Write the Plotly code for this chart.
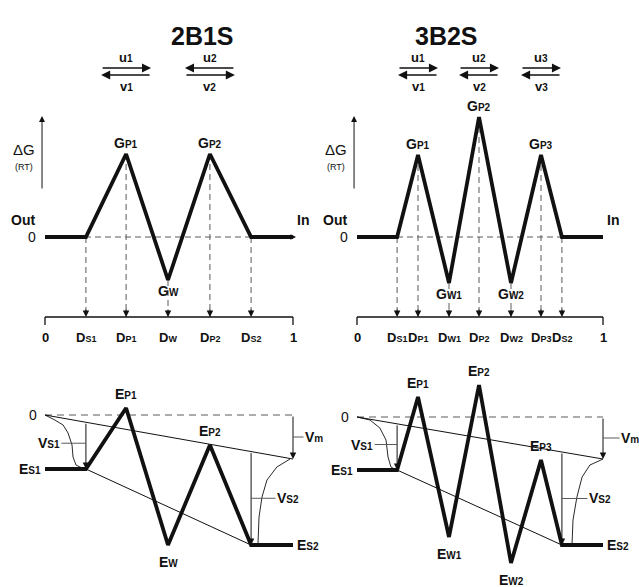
import plotly.graph_objects as go

# ---------------------------------------------------------------
# Energy profiles of two permeation models (2B1S and 3B2S).
# D: electrical distance across the membrane (0 = outside, 1 = inside)
# G: free-energy levels at zero voltage (RT units)
# E: the same profile with the membrane potential applied
# ---------------------------------------------------------------

# ---- 2B1S: two barriers, one binding site ----
POS_2B = [0.0, 0.165, 0.327, 0.496, 0.665, 0.831, 1.0]
SITE_2B = ["", "S1", "P1", "W", "P2", "S2", ""]
G_2B = [0.0, 0.0, 4.15, -2.15, 4.15, 0.0, 0.0]
E_2B = [-2.7, -2.7, 0.35, -6.5, -1.5, -6.5, -6.5]
VM_2B = 2.2
ACCESS_IN_D_2B = [0.0, 0.040, 0.073, 0.093, 0.109, 0.113, 0.125, 0.149]
ACCESS_IN_E_2B = [0.0, -0.25, -0.5, -0.9, -1.5, -2.1, -2.5, -2.65]
ACCESS_OUT_D_2B = [0.988, 0.935, 0.895, 0.875, 0.863, 0.859]
ACCESS_OUT_E_2B = [-2.2, -2.6, -3.25, -4.1, -5.1, -6.4]
RATES_2B = ["1", "2"]
RATE_DIR_2B = [1, -1]

# ---- 3B2S: three barriers, two binding sites ----
POS_3B = [0.0, 0.163, 0.248, 0.374, 0.496, 0.626, 0.748, 0.833, 1.0]
SITE_3B = ["", "S1", "P1", "W1", "P2", "W2", "P3", "S2", ""]
G_3B = [0.0, 0.0, 4.1, -2.3, 6.0, -2.3, 4.1, 0.0, 0.0]
E_3B = [-2.65, -2.65, 1.0, -6.0, 1.6, -7.3, -2.15, -6.4, -6.4]
VM_3B = 2.1
ACCESS_IN_D_3B = [0.0, 0.053, 0.093, 0.118, 0.126, 0.138, 0.16]
ACCESS_IN_E_3B = [0.0, -0.15, -0.55, -1.15, -2.0, -2.5, -2.65]
ACCESS_OUT_D_3B = [1.0, 0.947, 0.915, 0.894, 0.878, 0.874]
ACCESS_OUT_E_3B = [-2.1, -2.4, -3.0, -4.0, -5.15, -6.4]
RATES_3B = ["1", "2", "3"]
RATE_DIR_3B = [1, 1, 1]

# ---------------------------------------------------------------
W, H = 639, 587
FONT = "Liberation Sans, Arial, Helvetica, sans-serif"
INK = "#111111"
GREY = "#5a5a5a"
PX_PER_UNIT = 20.0          # vertical scale of both energy axes
TOP_DOM = (40, 350)         # pixel rows of the zero-voltage panels
BOT_DOM = (352, 587)        # pixel rows of the applied-voltage panels
D_AXIS_PX = 317             # pixel row of the distance axis


def fx(px):
    return px / W


def fy(py):
    return 1 - py / H


def label(main, sub="", sub_size=10, bold=True):
    s = main if not sub else f'{main}<span style="font-size:{sub_size}px">{sub}</span>'
    return f"<b>{s}</b>" if bold else s


panels = [
    dict(title="2B1S", x0=45, x1=293, dom=(0, 320), g0=237, e0=415,
         pos=POS_2B, site=SITE_2B, g=G_2B, e=E_2B, vm=VM_2B,
         acc_in=(ACCESS_IN_D_2B, ACCESS_IN_E_2B), acc_out=(ACCESS_OUT_D_2B, ACCESS_OUT_E_2B),
         rates=RATES_2B, rdir=RATE_DIR_2B, rlen=50, in_arrow=True,
         vs1_off=-37, vs2_off=37, vm_off=21),
    dict(title="3B2S", x0=357, x1=603, dom=(320, 639), g0=237, e0=417,
         pos=POS_3B, site=SITE_3B, g=G_3B, e=E_3B, vm=VM_3B,
         acc_in=(ACCESS_IN_D_3B, ACCESS_IN_E_3B), acc_out=(ACCESS_OUT_D_3B, ACCESS_OUT_E_3B),
         rates=RATES_3B, rdir=RATE_DIR_3B, rlen=40, in_arrow=False,
         vs1_off=-35, vs2_off=38, vm_off=27),
]

fig = go.Figure()
annotations = []
layout_axes = {}


def line_trace(x, y, xa, ya, width=1.0, color=INK, dash=None):
    fig.add_trace(go.Scatter(
        x=x, y=y, xaxis=xa, yaxis=ya, mode="lines", hoverinfo="skip",
        line=dict(color=color, width=width, dash=dash), showlegend=False))


def arrow(xa, ya, x, y, ax, ay, ref=True, head=2, size=1.2, width=1.0, color=INK, xshift=0):
    a = dict(x=x, y=y, ax=ax, ay=ay, xref=xa, yref=ya, text="", showarrow=True,
             arrowhead=head, arrowsize=size, arrowwidth=width, arrowcolor=color,
             standoff=0, startstandoff=0, xshift=xshift)
    if ref:
        a.update(axref=xa, ayref=ya)
    annotations.append(a)


def text(xa, ya, x, y, s, size=14, xanchor="center", yanchor="middle", xshift=0, yshift=0):
    annotations.append(dict(x=x, y=y, xref=xa, yref=ya, text=s, showarrow=False,
                            xanchor=xanchor, yanchor=yanchor, xshift=xshift, yshift=yshift,
                            font=dict(family=FONT, size=size, color=INK)))


for k, P in enumerate(panels):
    n = 2 * k
    xt, yt = ("x", "y") if k == 0 else (f"x{n + 1}", f"y{n + 1}")
    xb, yb = f"x{n + 2}", f"y{n + 2}"
    sx = P["x1"] - P["x0"]
    xr = [(P["dom"][0] - P["x0"]) / sx, (P["dom"][1] - P["x0"]) / sx]
    xdom = [fx(P["dom"][0]), fx(P["dom"][1])]
    g_rng = [-(TOP_DOM[1] - P["g0"]) / PX_PER_UNIT, (P["g0"] - TOP_DOM[0]) / PX_PER_UNIT]
    e_rng = [-(BOT_DOM[1] - P["e0"]) / PX_PER_UNIT, (P["e0"] - BOT_DOM[0]) / PX_PER_UNIT]
    axis_g = -(D_AXIS_PX - P["g0"]) / PX_PER_UNIT

    def key(ref, kind):
        return kind + "axis" + ref[1:]

    layout_axes[key(xt, "x")] = dict(domain=xdom, range=xr, visible=False, anchor=yt, fixedrange=True)
    layout_axes[key(yt, "y")] = dict(domain=[fy(TOP_DOM[1]), fy(TOP_DOM[0])], range=g_rng,
                                     visible=False, anchor=xt, fixedrange=True)
    layout_axes[key(xb, "x")] = dict(domain=xdom, range=xr, visible=False, anchor=yb, fixedrange=True)
    layout_axes[key(yb, "y")] = dict(domain=[fy(BOT_DOM[1]), fy(BOT_DOM[0])], range=e_rng,
                                     visible=False, anchor=xb, fixedrange=True)

    pos, site, g, e, vm = P["pos"], P["site"], P["g"], P["e"], P["vm"]
    inner = range(1, len(pos) - 1)
    peaks = [i for i in inner if site[i].startswith("P")]

    # ---------------- zero-voltage profile ----------------
    line_trace([pos[0], pos[-1]], [0, 0], xt, yt, 1, GREY, "6px,4px")
    dx, dy = [], []
    for i in inner:
        dx += [pos[i], pos[i], None]
        dy += [g[i], axis_g, None]
    line_trace(dx, dy, xt, yt, 1, GREY, "6px,4px")
    for i in inner:
        arrow(xt, yt, pos[i], axis_g, 0, -9, ref=False, head=2, size=1.3, width=1)
    # distance axis
    line_trace([pos[0], pos[-1]], [axis_g, axis_g], xt, yt, 1.3)
    tick = 8 / PX_PER_UNIT
    line_trace([pos[0], pos[0], None, pos[-1], pos[-1]],
               [axis_g, axis_g - tick, None, axis_g, axis_g - tick], xt, yt, 1.3)
    line_trace(pos, g, xt, yt, 3.8)
    if P["in_arrow"]:
        arrow(xt, yt, pos[-1], 0, -7, 0, ref=False, head=2, size=1.1, width=1, xshift=3)

    # distance labels
    for i, p in enumerate(pos):
        s = label("0" if i == 0 else "1") if site[i] == "" else label("D", site[i], 9)
        text(xt, yt, p, axis_g, s, size=13, yshift=-20)
    # level labels
    for i in inner:
        if site[i].startswith("S"):
            continue
        up = g[i] > 0
        text(xt, yt, pos[i], g[i], label("G", site[i]), size=14, yshift=11 if up else -11)

    # ΔG arrow and side labels
    arrow(xt, yt, -0.012, 6.05, -0.012, 2.35, head=2, size=1.2, width=1)
    text(xt, yt, -0.012, 4.4, "ΔG", size=15, xshift=-18)
    text(xt, yt, -0.012, 3.5, "(RT)", size=9, xshift=-18)
    text(xt, yt, pos[0], 0, label("Out"), size=14, xshift=-22, yshift=17)
    text(xt, yt, pos[0], 0, "0", size=14, xanchor="right", xshift=-7)
    text(xt, yt, pos[-1], 0, label("In"), size=14, xshift=10, yshift=17)

    # rate-constant arrows above each barrier
    u_lvl = (P["g0"] - 68) / PX_PER_UNIT
    v_lvl = (P["g0"] - 75) / PX_PER_UNIT
    for j, i in enumerate(peaks):
        d = P["rdir"][j]
        L = P["rlen"]
        arrow(xt, yt, pos[i], u_lvl, -d * L, 0, ref=False, head=2, size=1.4, width=1.3,
              xshift=d * L / 2)
        arrow(xt, yt, pos[i], v_lvl, d * L, 0, ref=False, head=2, size=1.4, width=1.3,
              xshift=-d * L / 2)
        text(xt, yt, pos[i], u_lvl, label("u", P["rates"][j]), size=13, yshift=11)
        text(xt, yt, pos[i], v_lvl, label("v", P["rates"][j]), size=13, yshift=-11)

    annotations.append(dict(x=fx((P["x0"] + P["x1"]) / 2), y=fy(20), xref="paper", yref="paper",
                            text=f"<b>{P['title']}</b>", showarrow=False,
                            font=dict(family=FONT, size=25, color=INK)))

    # ---------------- profile under applied voltage ----------------
    s1, s2 = 1, len(pos) - 2
    line_trace([pos[0], pos[-1]], [0, 0], xb, yb, 1, GREY, "7px,5px")
    line_trace([pos[0], pos[-1]], [0, -vm], xb, yb, 1)
    line_trace([pos[s1], pos[s2]], [e[s1], e[s2]], xb, yb, 1)
    line_trace(P["acc_in"][0], P["acc_in"][1], xb, yb, 0.9)
    line_trace(P["acc_out"][0], P["acc_out"][1], xb, yb, 0.9)
    line_trace(pos, e, xb, yb, 3.8)

    # voltage-drop arrows
    for i in (s1, s2):
        arrow(xb, yb, pos[i], e[i], pos[i], -vm * pos[i], head=2, size=1.3, width=1)
    arrow(xb, yb, pos[-1], -vm, pos[-1], 0, head=2, size=1.3, width=1)

    def leader(x, y, s, off):
        annotations.append(dict(x=x, y=y, xref=xb, yref=yb, ax=off, ay=0, text=s,
                                showarrow=True, arrowhead=0, arrowwidth=1, arrowcolor=GREY,
                                standoff=0, font=dict(family=FONT, size=14, color=INK)))

    mid1 = (-vm * pos[s1] + e[s1]) / 2 + 0.12
    mid2 = (-vm * pos[s2] + e[s2]) / 2
    leader(pos[s1], mid1, label("V", "S1"), P["vs1_off"])
    leader(pos[s2], mid2, label("V", "S2"), P["vs2_off"])
    leader(pos[-1], -vm / 2, label("V", "m"), P["vm_off"])

    for i in inner:
        if site[i].startswith("S"):
            continue
        up = site[i].startswith("P")
        text(xb, yb, pos[i], e[i], label("E", site[i]), size=14, yshift=14 if up else -17)
    text(xb, yb, pos[0], e[s1], label("E", "S1"), size=14, xanchor="right", xshift=-2)
    text(xb, yb, pos[-1], e[s2], label("E", "S2"), size=14, xanchor="left", xshift=2)
    text(xb, yb, pos[0], 0, "0", size=14, xanchor="right", xshift=-6)

fig.update_layout(
    width=W, height=H, margin=dict(l=0, r=0, t=0, b=0),
    paper_bgcolor="white", plot_bgcolor="rgba(0,0,0,0)",
    showlegend=False, annotations=annotations, template="none",
    font=dict(family=FONT, color=INK),
    **layout_axes,
)

fig.write_html("out.html")
